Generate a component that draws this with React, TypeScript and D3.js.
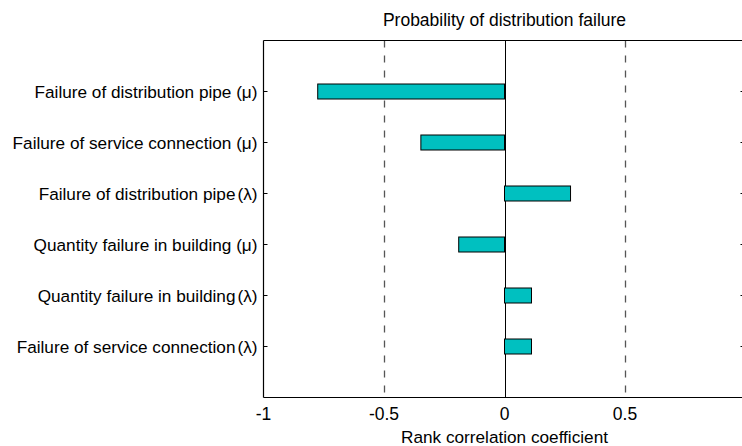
import React from "react";
import * as d3 from "d3";

const categories = [
  "Failure of distribution pipe",
  "Failure of service connection",
  "Failure of distribution pipe",
  "Quantity failure in building",
  "Quantity failure in building",
  "Failure of service connection",
];
const params = ["μ", "μ", "λ", "μ", "λ", "λ"];
const values = [-0.775, -0.347, 0.274, -0.19, 0.112, 0.112];
const xTicks = [-1, -0.5, 0, 0.5];
const xTickLabels = ["-1", "-0.5", "0", "0.5"];
const gridValues = [-0.5, 0.5];

const W = 742;
const H = 446;
const left = 263.5;
const top = 40.5;
const bottom = 397.5;

export default function App() {
  const x = d3.scaleLinear().domain([-1, 1]).range([left, left + 482]);
  const y = d3.scaleLinear().domain([0, 7]).range([top, bottom]);
  const barH = 15;
  const font = "Arial, 'Liberation Sans', Helvetica, sans-serif";
  const rightX = x(1);
  return (
    <svg
      width={W}
      height={H}
      style={{ position: "absolute", left: 0, top: 0, background: "#fff" }}
      fontFamily={font}
    >
      <rect x={0} y={0} width={W} height={H} fill="#fff" />
      {gridValues.map((g) => (
        <line
          key={g}
          x1={Math.round(x(g)) + 0.5}
          x2={Math.round(x(g)) + 0.5}
          y1={top}
          y2={bottom}
          stroke="#555"
          strokeWidth={1.3}
          strokeDasharray="7,8"
        />
      ))}
      <line x1={Math.round(x(0)) + 0.5} x2={Math.round(x(0)) + 0.5} y1={top} y2={bottom} stroke="#000" strokeWidth={1} />
      {values.map((v, i) => {
        const x0 = x(Math.min(0, v));
        const x1 = x(Math.max(0, v));
        return (
          <rect
            key={i}
            x={x0}
            y={y(i + 1) - barH / 2}
            width={x1 - x0}
            height={barH}
            fill="#00C0C0"
            stroke="#000"
            strokeWidth={1}
          />
        );
      })}
      <line x1={left} x2={rightX} y1={top} y2={top} stroke="#000" strokeWidth={1} />
      <line x1={left} x2={rightX} y1={bottom} y2={bottom} stroke="#000" strokeWidth={1.2} />
      <line x1={left} x2={left} y1={top} y2={bottom} stroke="#000" strokeWidth={1.2} />
      <line x1={rightX} x2={rightX} y1={top} y2={bottom} stroke="#000" strokeWidth={1} />
      {categories.map((c, i) => (
        <g key={i}>
          <line x1={left} x2={left + 4} y1={y(i + 1)} y2={y(i + 1)} stroke="#000" />
          <line x1={rightX - 5} x2={rightX} y1={y(i + 1)} y2={y(i + 1)} stroke="#000" />
          <text
            x={left - 6}
            y={y(i + 1)}
            dy="0.35em"
            textAnchor="end"
            fontSize={17.2}
            fill="#000"
          >
            {params[i] === "μ" ? `${c} (μ)` : (
              <>
                {c}
                <tspan dx={2}>(λ)</tspan>
              </>
            )}
          </text>
        </g>
      ))}
      {xTicks.map((t, i) => (
        <text key={t} x={x(t)} y={420} textAnchor="middle" fontSize={17.5} fill="#000">
          {xTickLabels[i]}
        </text>
      ))}
      <text x={x(0)} y={443} textAnchor="middle" fontSize={17.2} fill="#000">
        Rank correlation coefficient
      </text>
      <text x={x(0)} y={26} textAnchor="middle" fontSize={17.5} fill="#000">
        Probability of distribution failure
      </text>
    </svg>
  );
}
